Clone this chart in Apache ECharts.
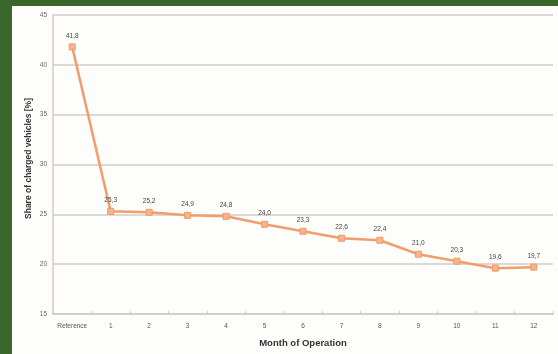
<!DOCTYPE html>
<html>
<head>
<meta charset="utf-8">
<script src="https://cdn.jsdelivr.net/npm/echarts@6/dist/echarts.min.js"></script>
<style>
  html, body { margin: 0; padding: 0; background: #3a6629; }
  #chart { width: 558px; height: 354px; }
</style>
</head>
<body>
<div id="chart"></div>
<script>
// Months of operation, starting with the reference period
const categories = ['Reference', '1', '2', '3', '4', '5', '6', '7', '8', '9', '10', '11', '12'];
// Share of charged vehicles per month, in percent
const shareValues = [41.8, 25.3, 25.2, 24.9, 24.8, 24.0, 23.3, 22.6, 22.4, 21.0, 20.3, 19.6, 19.7];
// Value axis ticks
const yTicks = [15, 20, 25, 30, 35, 40, 45];

const chart = echarts.init(document.getElementById('chart'), null, { renderer: 'canvas' });

const gridColor = '#cfcbc8';

chart.setOption({
  backgroundColor: '#3a6629',
  animation: false,
  graphic: [{
    type: 'rect',
    left: 12, top: 6,
    shape: { width: 546, height: 348 },
    style: { fill: '#fdfdfc' },
    z: -1
  }],
  grid: { left: 53, top: 15, right: 5, bottom: 40, containLabel: false },
  xAxis: {
    type: 'category',
    data: categories,
    boundaryGap: true,
    name: 'Month of Operation',
    nameLocation: 'middle',
    nameGap: 24,
    nameMoveOverlap: false,
    nameTextStyle: { fontFamily: 'Liberation Sans', fontWeight: 'bold', fontSize: 9.5, color: '#333' },
    axisLine: { lineStyle: { color: gridColor, width: 1.5 } },
    axisTick: { show: true, interval: 0, length: 3, inside: true, lineStyle: { color: gridColor } },
    axisLabel: { interval: 0, fontFamily: 'Liberation Sans', fontSize: 6.5, color: '#555', margin: 9 }
  },
  yAxis: {
    type: 'value',
    min: yTicks[0],
    max: yTicks[yTicks.length - 1],
    interval: 5,
    name: 'Share of charged vehicles [%]',
    nameLocation: 'middle',
    nameGap: 20,
    nameMoveOverlap: false,
    nameRotate: 90,
    nameTextStyle: { fontFamily: 'Liberation Sans', fontWeight: 'bold', fontSize: 8.5, color: '#333', padding: [0, 0, 0, 12] },
    axisLine: { show: true, lineStyle: { color: gridColor, width: 1.5 } },
    axisTick: { show: false },
    axisLabel: { fontFamily: 'Liberation Sans', fontSize: 6.5, color: '#666', margin: 6 },
    splitLine: { lineStyle: { color: gridColor, width: 1.5 } }
  },
  series: [{
    type: 'line',
    data: shareValues,
    symbol: 'rect',
    symbolSize: 6,
    itemStyle: { color: '#f6b48c', borderColor: '#ef9a68', borderWidth: 1 },
    lineStyle: { color: '#f29d6c', width: 2.5 },
    label: {
      show: true,
      position: 'top',
      distance: 4,
      fontFamily: 'Liberation Sans',
      fontSize: 6.5,
      color: '#444',
      formatter: p => p.value.toFixed(1).replace('.', ',')
    }
  }]
});
</script>
</body>
</html>
